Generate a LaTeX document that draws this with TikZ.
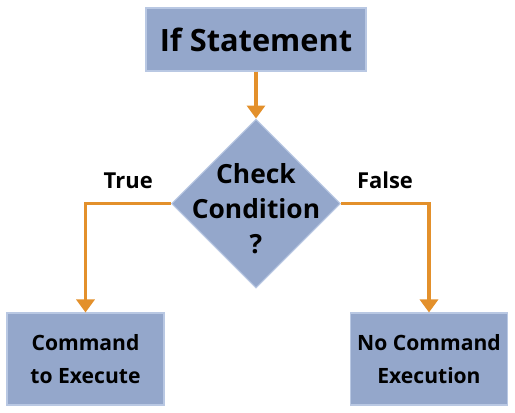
\documentclass[tikz,border=0pt]{standalone}
\usepackage{fontspec}
\setmainfont{Open Sans}
\usetikzlibrary{positioning,arrows.meta,shapes.geometric}
\definecolor{ifBlue}{HTML}{94A7CB}
\definecolor{ifEdge}{HTML}{B9C8E3}
\definecolor{ifOrange}{HTML}{E3902B}
\tikzset{
  stepbox/.style={draw=ifEdge,fill=ifBlue,line width=0.6pt,inner sep=0pt,
    align=center,font=\bfseries\fontsize{12}{18.7}\selectfont},
  decision/.style={diamond,aspect=1,draw=ifEdge,fill=ifBlue,line width=0.6pt,
    inner sep=0pt,minimum width=3.38cm,minimum height=3.38cm},
  flow/.style={-{Triangle[length=2.6mm,width=3.6mm]},line width=2.2pt,draw=ifOrange},
  branchlabel/.style={font=\bfseries\fontsize{12.5}{15}\selectfont,anchor=base,inner sep=0pt}
}
\begin{document}
\begin{tikzpicture}
  \useasboundingbox (0,0) rectangle (10.3,-8.26);
  \node[stepbox, minimum width=4.4cm, minimum height=1.26cm,
    font=\bfseries\fontsize{17.5}{20}\selectfont] (ifst) at (5.12,-0.79) {If Statement};
  \node[decision, below=0.94cm of ifst] (cond) {};
  \node[align=center, inner sep=0pt, yshift=-0.1cm,
    font=\bfseries\fontsize{15}{20}\selectfont] (condtxt) at (cond) {Check\\Condition\\?};

  \node[stepbox, minimum width=3.14cm, minimum height=1.84cm] (cmd) at (1.71,-7.18) {Command\\to Execute};
  \node[stepbox, minimum width=3.14cm, minimum height=1.84cm] (nocmd) at (8.58,-7.18) {No Command\\Execution};

  \draw[flow] (ifst) -- (cond);
  \draw[flow] (cond.west) -| node[branchlabel, pos=0.25, yshift=0.3cm] (truelbl) {True} (cmd.north);
  \draw[flow] (cond.east) -| node[branchlabel, pos=0.25, yshift=0.3cm] (falselbl) {False} (nocmd.north);
\end{tikzpicture}
\end{document}
